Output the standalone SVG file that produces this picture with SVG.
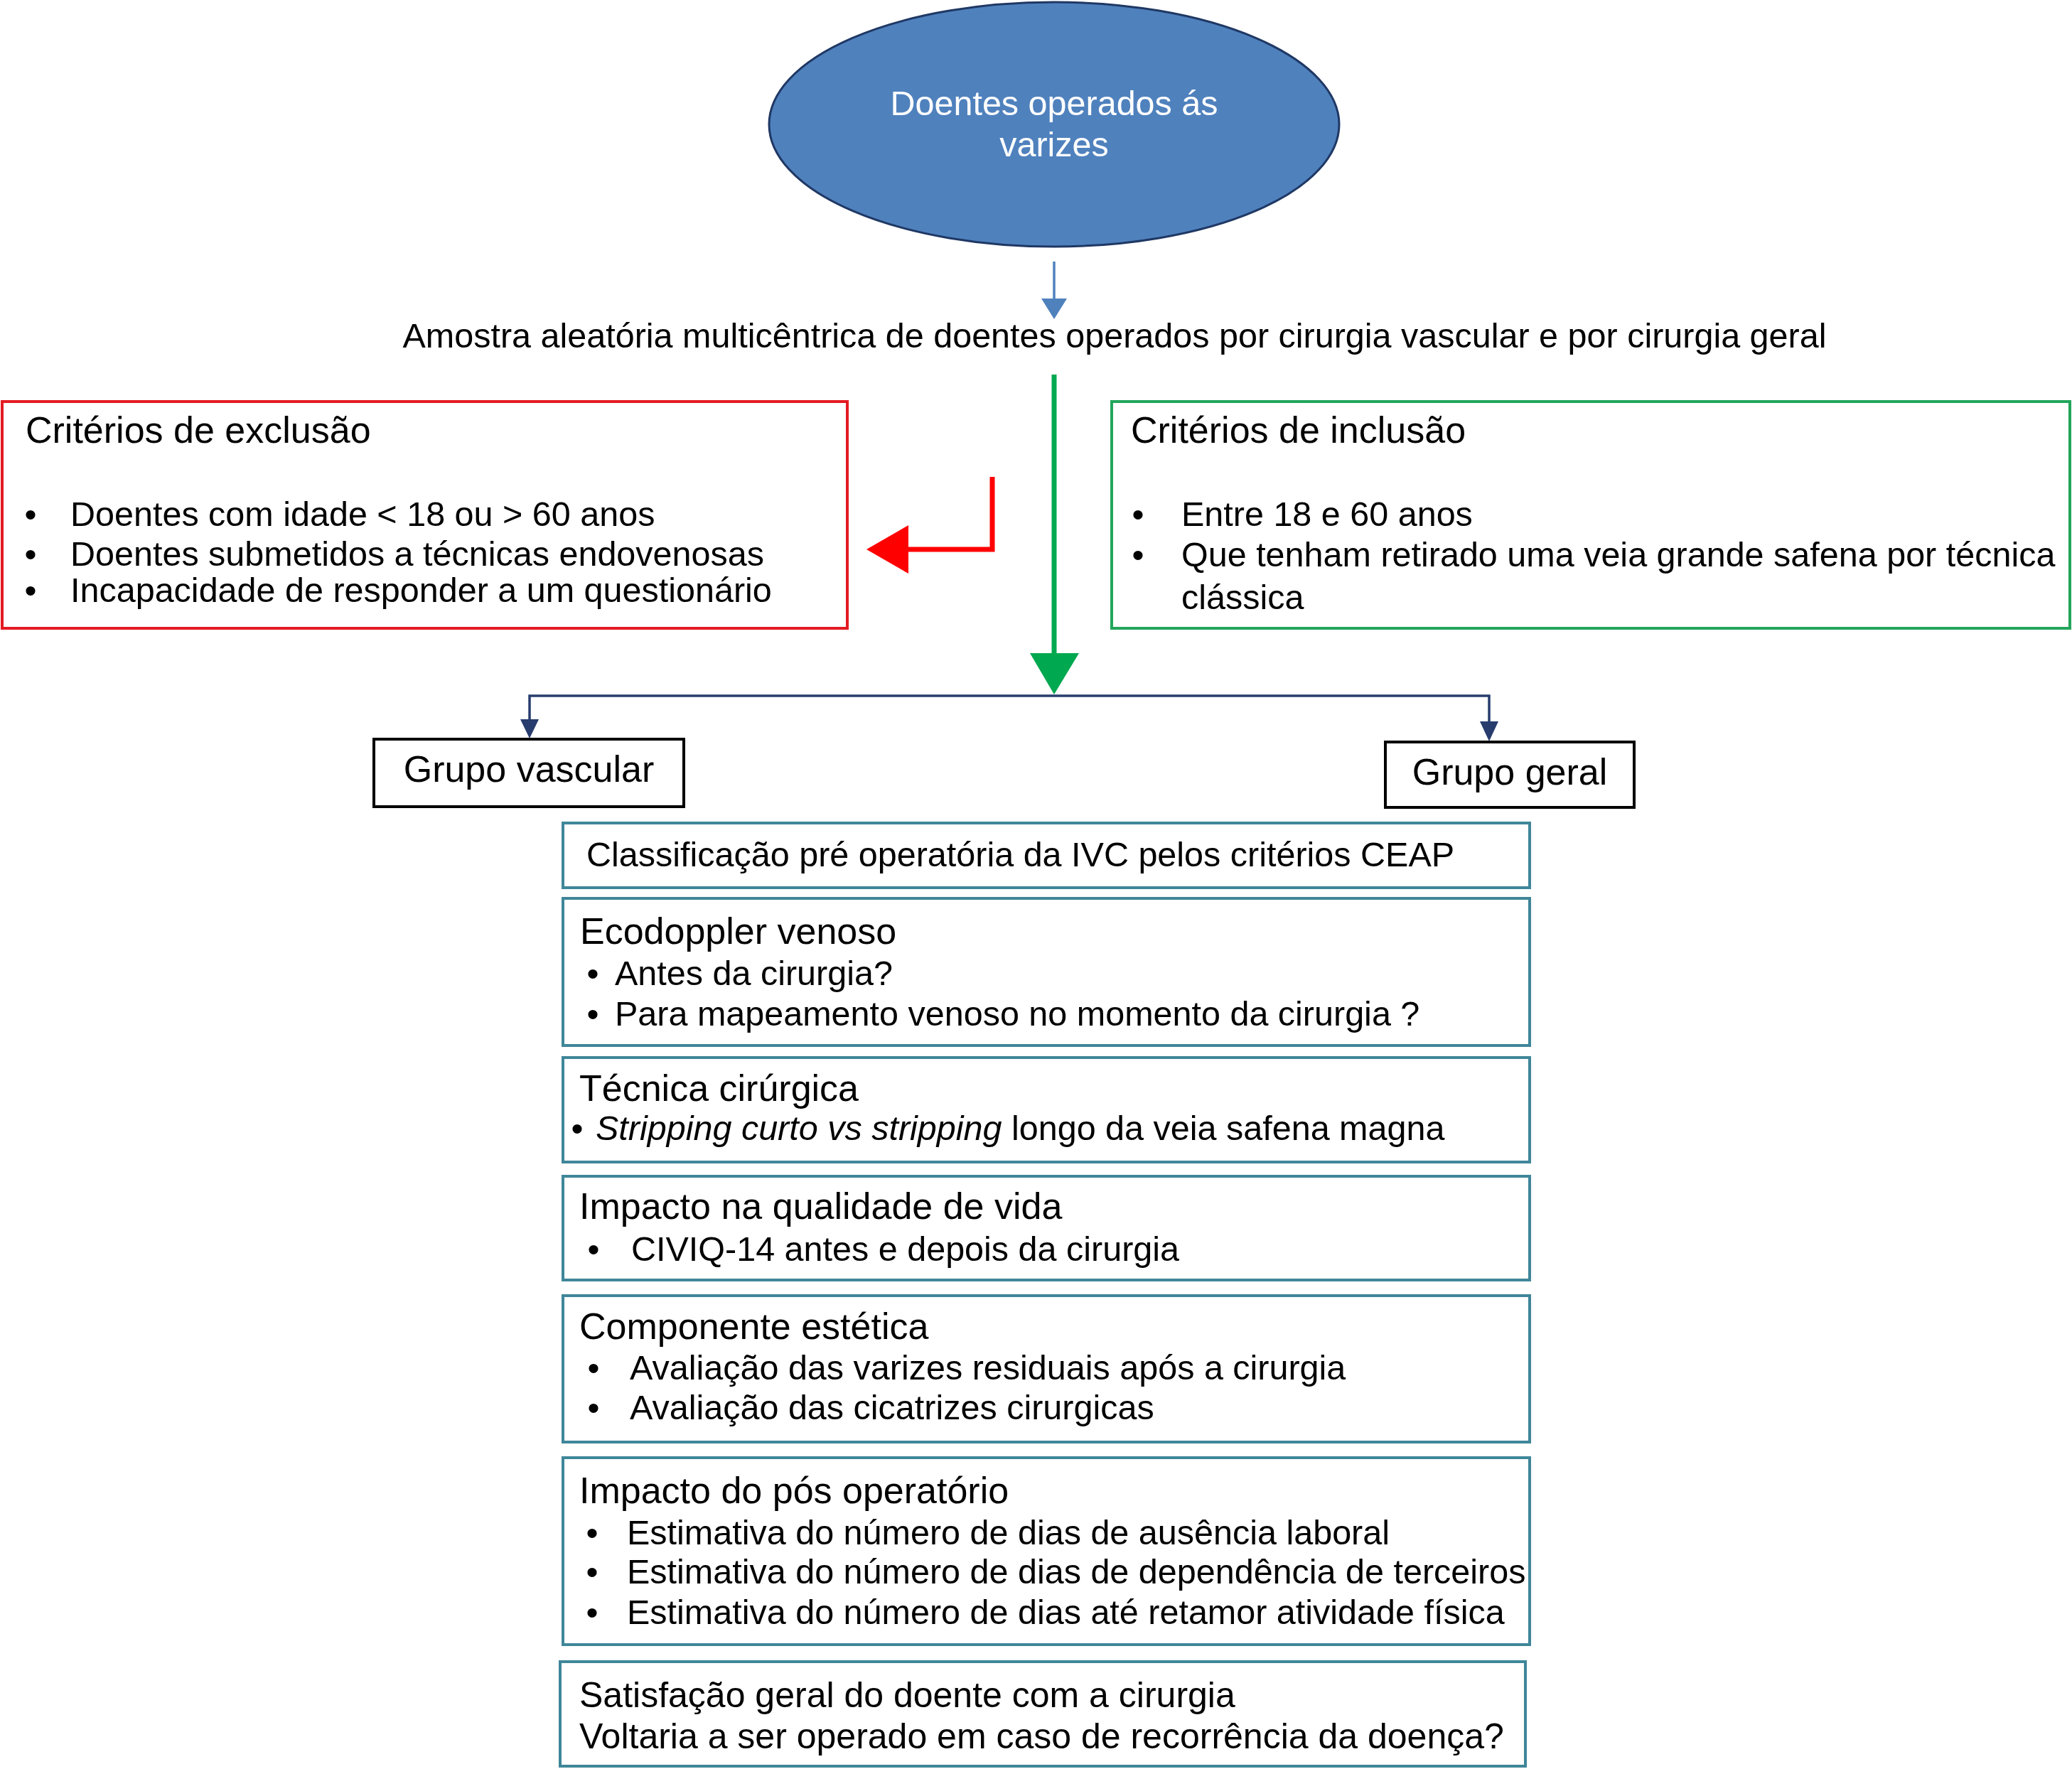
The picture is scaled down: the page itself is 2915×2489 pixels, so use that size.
<svg xmlns="http://www.w3.org/2000/svg" width="2915" height="2489" viewBox="0 0 2915 2489">
<style>
text { font-family: "Liberation Sans", Arial, Helvetica, sans-serif; fill: #000; }
.h { font-size: 52px; }
.t { font-size: 48.5px; }
.s { font-size: 50px; }
.b { font-size: 48.5px; text-anchor: middle; }
.w { fill: #fff; font-size: 48.5px; text-anchor: middle; }
.teal { fill: #fff; stroke: #3F8699; stroke-width: 4; }
.blk { fill: #fff; stroke: #000; stroke-width: 4; }
</style>
<rect x="0" y="0" width="2915" height="2489" fill="#fff"/>

<g id="connectors">
  <line x1="1483" y1="368" x2="1483" y2="424" stroke="#4F81BD" stroke-width="3.5"/>
  <polygon points="1465,420 1501,420 1483,449" fill="#4F81BD"/>
  <line x1="1483" y1="527" x2="1483" y2="922" stroke="#00A84F" stroke-width="7"/>
  <polygon points="1449,919 1518,919 1483,977" fill="#00A84F"/>
  <path d="M1396,671 V773 H1274" fill="none" stroke="#FF0000" stroke-width="7"/>
  <polygon points="1278,739 1278,807 1219,773" fill="#FF0000"/>
  <path d="M745,1014 V979 H2095 V1017" fill="none" stroke="#283C6E" stroke-width="3.5"/>
  <polygon points="732,1012 758,1012 745,1039" fill="#283C6E"/>
  <polygon points="2082,1015 2108,1015 2095,1043" fill="#283C6E"/>
</g>

<g id="start">
  <ellipse cx="1483" cy="175" rx="401" ry="172" fill="#4F81BD" stroke="#1F3864" stroke-width="3"/>
  <text class="w" x="1483" y="162">Doentes operados ás</text>
  <text class="w" x="1483" y="220">varizes</text>
</g>

<g id="sample">
  <text class="t" x="1568" y="489" text-anchor="middle">Amostra aleatória multicêntrica de doentes operados por cirurgia vascular e por cirurgia geral</text>
</g>

<g id="exclusion">
  <rect x="3" y="565" width="1189" height="319" fill="#fff" stroke="#E31B23" stroke-width="4"/>
  <text class="h" x="36" y="623">Critérios de exclusão</text>
  <text class="b" x="43" y="740">•</text>
  <text class="t" x="99" y="740">Doentes com idade &lt; 18 ou &gt; 60 anos</text>
  <text class="b" x="43" y="796">•</text>
  <text class="t" x="99" y="796">Doentes submetidos a técnicas endovenosas</text>
  <text class="b" x="43" y="847">•</text>
  <text class="t" x="99" y="847">Incapacidade de responder a um questionário</text>
</g>

<g id="inclusion">
  <rect x="1564" y="565" width="1348" height="319" fill="#fff" stroke="#22A55B" stroke-width="4"/>
  <text class="h" x="1591" y="623">Critérios de inclusão</text>
  <text class="b" x="1601" y="740">•</text>
  <text class="t" x="1662" y="740">Entre 18 e 60 anos</text>
  <text class="b" x="1601" y="797">•</text>
  <text class="t" x="1662" y="797">Que tenham retirado uma veia grande safena por técnica</text>
  <text class="t" x="1662" y="857">clássica</text>
</g>

<g id="grupo-vascular">
  <rect class="blk" x="526" y="1040" width="436" height="95"/>
  <text class="h" x="744" y="1100" text-anchor="middle">Grupo vascular</text>
</g>

<g id="grupo-geral">
  <rect class="blk" x="1949" y="1044" width="350" height="92"/>
  <text class="h" x="2124" y="1104" text-anchor="middle">Grupo geral</text>
</g>

<g id="ceap">
  <rect class="teal" x="792" y="1158" width="1360" height="91"/>
  <text class="t" x="825" y="1219">Classificação pré operatória da IVC pelos critérios CEAP</text>
</g>

<g id="ecodoppler">
  <rect class="teal" x="792" y="1264" width="1360" height="207"/>
  <text class="h" x="816" y="1328">Ecodoppler venoso</text>
  <text class="b" x="834" y="1386">•</text>
  <text class="t" x="865" y="1386">Antes da cirurgia?</text>
  <text class="b" x="834" y="1443">•</text>
  <text class="t" x="865" y="1443">Para mapeamento venoso no momento da cirurgia ?</text>
</g>

<g id="tecnica">
  <rect class="teal" x="792" y="1488" width="1360" height="147"/>
  <text class="h" x="815" y="1549">Técnica cirúrgica</text>
  <text class="b" x="812" y="1604">•</text>
  <text class="t" x="838" y="1604"><tspan font-style="italic">Stripping curto vs stripping</tspan> longo da veia safena magna</text>
</g>

<g id="qualidade">
  <rect class="teal" x="792" y="1655" width="1360" height="146"/>
  <text class="h" x="815" y="1715">Impacto na qualidade de vida</text>
  <text class="b" x="835" y="1774">•</text>
  <text class="t" x="888" y="1774">CIVIQ-14 antes e depois da cirurgia</text>
</g>

<g id="estetica">
  <rect class="teal" x="792" y="1823" width="1360" height="206"/>
  <text class="h" x="815" y="1884">Componente estética</text>
  <text class="b" x="835" y="1941">•</text>
  <text class="t" x="886" y="1941">Avaliação das varizes residuais após a cirurgia</text>
  <text class="b" x="835" y="1997">•</text>
  <text class="t" x="886" y="1997">Avaliação das cicatrizes cirurgicas</text>
</g>

<g id="pos-operatorio">
  <rect class="teal" x="792" y="2051" width="1360" height="263"/>
  <text class="h" x="815" y="2115">Impacto do pós operatório</text>
  <text class="b" x="833" y="2173">•</text>
  <text class="t" x="882" y="2173">Estimativa do número de dias de ausência laboral</text>
  <text class="b" x="833" y="2228">•</text>
  <text class="t" x="882" y="2228">Estimativa do número de dias de dependência de terceiros</text>
  <text class="b" x="833" y="2285">•</text>
  <text class="t" x="882" y="2285">Estimativa do número de dias até retamor atividade física</text>
</g>

<g id="satisfacao">
  <rect class="teal" x="788" y="2338" width="1358" height="147"/>
  <text class="s" x="815" y="2402">Satisfação geral do doente com a cirurgia</text>
  <text class="s" x="815" y="2460">Voltaria a ser operado em caso de recorrência da doença?</text>
</g>
</svg>
